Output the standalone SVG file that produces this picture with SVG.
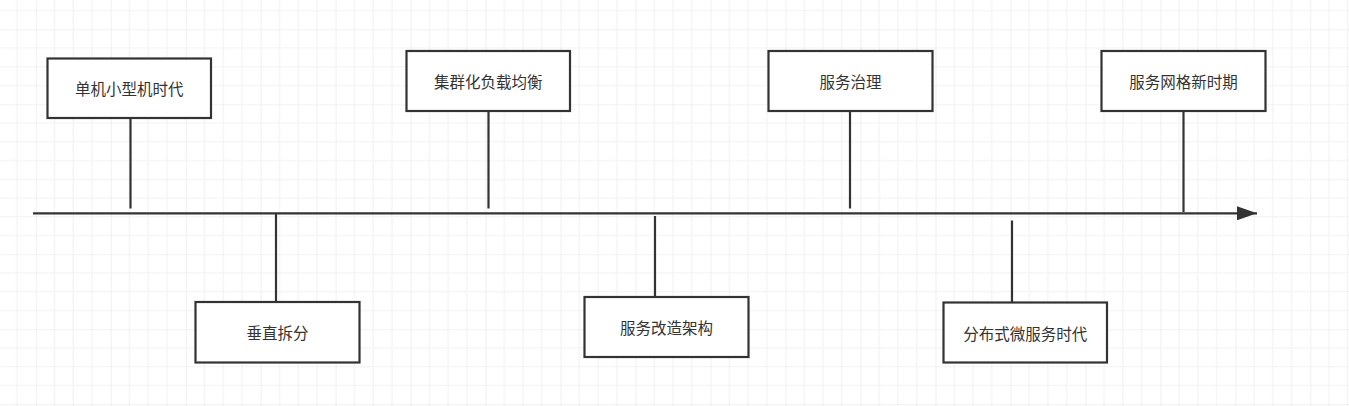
<svg xmlns="http://www.w3.org/2000/svg" width="1349" height="406" viewBox="0 0 1349 406">
<style>
.box{fill:#ffffff;stroke:#333333;stroke-width:2.2}
.lbl{font-family:"Noto Sans CJK SC","Noto Sans",sans-serif;font-size:15.5px;fill:#333333;text-anchor:middle;dominant-baseline:central}
.ln{stroke:#333333;stroke-width:2.2;fill:none}
.gmin{stroke:#f2f2f2;stroke-width:1.2}
.gmaj{stroke:#e6e6e6;stroke-width:1.2}
</style>
<defs>
<pattern id="grid" patternUnits="userSpaceOnUse" x="35.7" y="29.3" width="74.98" height="74.98">
<line class="gmin" x1="18.745" y1="0" x2="18.745" y2="74.98"/>
<line class="gmin" x1="37.49" y1="0" x2="37.49" y2="74.98"/>
<line class="gmin" x1="56.235" y1="0" x2="56.235" y2="74.98"/>
<line class="gmin" x1="0" y1="18.745" x2="74.98" y2="18.745"/>
<line class="gmin" x1="0" y1="37.49" x2="74.98" y2="37.49"/>
<line class="gmin" x1="0" y1="56.235" x2="74.98" y2="56.235"/>
<line class="gmaj" x1="0" y1="0" x2="0" y2="74.98"/>
<line class="gmaj" x1="0" y1="0" x2="74.98" y2="0"/>
</pattern>
<marker id="arr" markerUnits="userSpaceOnUse" viewBox="0 0 20 14" refX="20" refY="7" markerWidth="20" markerHeight="14" orient="auto">
<path d="M0,0 L20,7 L0,14 Z" fill="#333333"/>
</marker>
</defs>
<rect x="0" y="0" width="1349" height="406" fill="#ffffff"/>
<rect x="0" y="0" width="1349" height="406" fill="url(#grid)"/>
<g id="connectors">
<line class="ln" x1="33" y1="213.3" x2="1257" y2="213.3" marker-end="url(#arr)"/>
<line class="ln" x1="130.5" y1="118" x2="130.5" y2="208.5"/>
<line class="ln" x1="488.5" y1="111" x2="488.5" y2="208.5"/>
<line class="ln" x1="850" y1="111" x2="850" y2="208.5"/>
<line class="ln" x1="1183.5" y1="111" x2="1183.5" y2="212"/>
<line class="ln" x1="276" y1="213" x2="276" y2="302"/>
<line class="ln" x1="655" y1="216" x2="655" y2="297"/>
<line class="ln" x1="1012" y1="220.5" x2="1012" y2="302"/>
</g>
<g id="n1"><rect class="box" x="47.5" y="58.5" width="163.5" height="59.5"/><text class="lbl" x="129.2" y="88.2">单机小型机时代</text></g>
<g id="n2"><rect class="box" x="195.5" y="302" width="164" height="60.5"/><text class="lbl" x="277.5" y="332.3">垂直拆分</text></g>
<g id="n3"><rect class="box" x="406.5" y="51" width="163.5" height="60"/><text class="lbl" x="488.2" y="81">集群化负载均衡</text></g>
<g id="n4"><rect class="box" x="584.5" y="297" width="164" height="60"/><text class="lbl" x="666.5" y="327">服务改造架构</text></g>
<g id="n5"><rect class="box" x="768.5" y="51" width="164" height="60"/><text class="lbl" x="850.5" y="81">服务治理</text></g>
<g id="n6"><rect class="box" x="943.5" y="302.5" width="163.5" height="60"/><text class="lbl" x="1025.2" y="332.5">分布式微服务时代</text></g>
<g id="n7"><rect class="box" x="1101.5" y="51" width="164" height="60"/><text class="lbl" x="1183.5" y="81">服务网格新时期</text></g>
</svg>
